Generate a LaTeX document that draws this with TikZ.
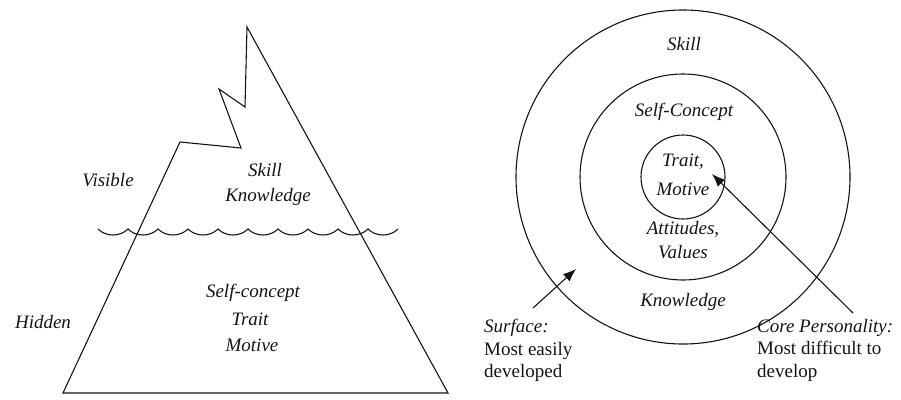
\documentclass[tikz,border=0pt]{standalone}
\usepackage{fontspec}
\setmainfont{Liberation Serif}
\usepackage{tikz}
\usetikzlibrary{arrows.meta, positioning, calc}
\definecolor{inkblack}{RGB}{20, 20, 20}

\begin{document}
\begin{tikzpicture}[
    x=1pt, y=-1pt,
    word/.style={font=\fontsize{19}{22}\selectfont\itshape, inner sep=0pt, text=inkblack},
    note/.style={font=\fontsize{19}{22.5}\selectfont, align=left, anchor=north west,
        inner sep=0pt, text=inkblack},
    outline/.style={draw=inkblack, line width=1.1pt},
    line/.style={draw=inkblack, -{Latex[length=13pt, width=10pt]}, line width=1.1pt}
]
    \useasboundingbox (0,0) rectangle (901,399);

    % iceberg
    \draw [outline, line join=miter]
        (63,393) -- (180,142) -- (241,148) -- (219,89) -- (245,107) -- (247,27) -- (448,393) -- cycle;
    \draw [outline] (98,229)
        \foreach \x in {98,128,...,368} { .. controls (\x+8,237) and (\x+22,237) .. (\x+30,229) };

    \node [word] (visible)  at (108,180) {Visible};
    \node [word] (hidden)   at (43,322)  {Hidden};
    \node [word] (skill)    at (265,170) {Skill};
    \node [word] (know)     at (268,197) {Knowledge};
    \node [word] (selfc)    at (253,293) {Self-concept};
    \node [word] (trait)    at (250,319) {Trait};
    \node [word] (motive)   at (252,345) {Motive};

    % onion
    \coordinate (centre) at (683,177);
    \draw [outline] (centre) circle [radius=167pt];
    \draw [outline] (centre) circle [radius=103pt];
    \draw [outline] (centre) circle [radius=42pt];

    \node [word] (cskill)   at (684,44)  {Skill};
    \node [word] (cself)    at (684,112) {Self-Concept};
    \node [word] (ctrait)   at (683,162) {Trait,};
    \node [word] (cmotive)  at (683,189) {Motive};
    \node [word] (cattit)   at (683,229) {Attitudes,};
    \node [word] (cvalues)  at (683,252) {Values};
    \node [word] (cknow)    at (683,302) {Knowledge};

    \node [note] (surface)  at (484,319) {\textit{Surface:}\\Most easily\\developed};
    \node [note] (core)     at (757,319) {\textit{Core Personality:}\\Most difficult to\\develop};

    \coordinate (surftail) at (533,308);
    \coordinate (surfhead) at (576,269);
    \coordinate (coretail) at (853,313);
    \coordinate (corehead) at (712,174);

    \path [line] (surftail) -- (surfhead);
    \path [line] (coretail) -- (corehead);
\end{tikzpicture}
\end{document}
